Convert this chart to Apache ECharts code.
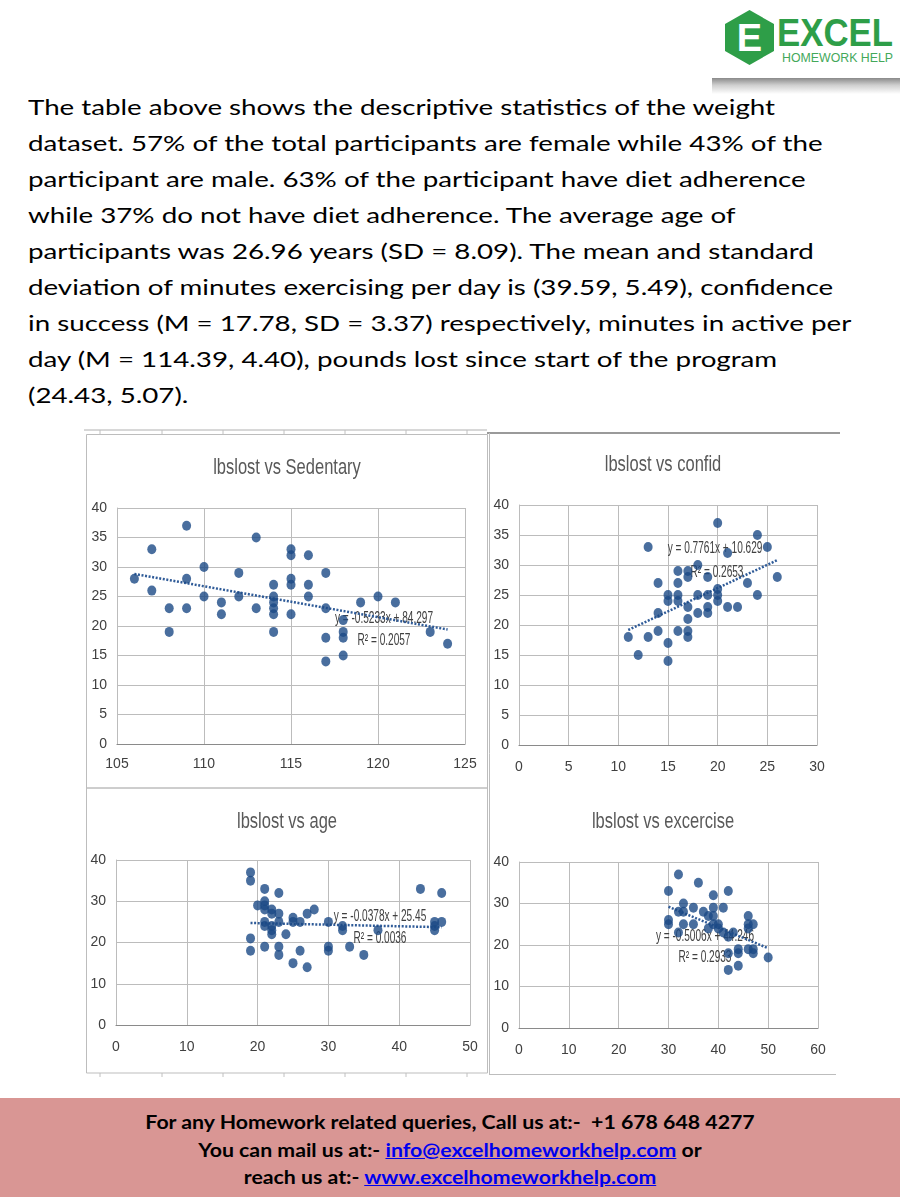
<!DOCTYPE html>
<html>
<head>
<meta charset="utf-8">
<script src="https://cdn.jsdelivr.net/npm/echarts/dist/echarts.min.js"></script>
<style>
  html, body { margin:0; padding:0; background:#fff; }
  #page { position:relative; width:900px; height:1200px; overflow:hidden; background:#fff; }
  #para { position:absolute; left:28px; top:89px; font-family:Lato, sans-serif; font-size:21px; line-height:36px; color:#000; white-space:nowrap; transform:scaleX(1.32); transform-origin:0 0; }
  #logo { position:absolute; left:712px; top:0; width:188px; height:78px; background:#fff; }
  #logoShadow { position:absolute; left:712px; top:78px; width:188px; height:16px; background:linear-gradient(#8a8a8a, #cfcfcf 45%, #fff); }
  #chart { position:absolute; left:0; top:420px; width:900px; height:665px; }
  #footer { position:absolute; left:0; top:1098px; width:900px; height:99px; background:#D99694; }
  #footerText { text-align:center; font-family:Lato, sans-serif; font-weight:bold; font-size:19px; line-height:27.5px; color:#000; padding-top:10px; transform:scaleX(1.12); transform-origin:50% 0; }
  #footer a { color:#0000EE; text-decoration:underline; }
</style>
</head>
<body>
<div id="page">
  <div id="logo">
    <svg width="188" height="78" viewBox="0 0 188 78">
      <polygon points="37.5,10 62,24 62,51 37.5,65 13,51 13,24" fill="#2E9E48"/>
      <text x="37.5" y="51" text-anchor="middle" font-family="Liberation Sans" font-weight="bold" font-size="38" fill="#fff">E</text>
      <text x="65" y="46" font-family="Liberation Sans" font-weight="bold" font-size="38" fill="#2E9E48" textLength="116" lengthAdjust="spacingAndGlyphs">EXCEL</text>
      <text x="70" y="62" font-family="Liberation Sans" font-size="12.5" fill="#43A85A" textLength="111" lengthAdjust="spacingAndGlyphs">HOMEWORK HELP</text>
    </svg>
  </div>
  <div id="logoShadow"></div>
  <div id="para">The table above shows the descriptive statistics of the weight<br>dataset. 57% of the total participants are female while 43% of the<br>participant are male. 63% of the participant have diet adherence<br>while 37% do not have diet adherence. The average age of<br>participants was 26.96 years (SD = 8.09). The mean and standard<br>deviation of minutes exercising per day is (39.59, 5.49), confidence<br>in success (M = 17.78, SD = 3.37) respectively, minutes in active per<br>day (M = 114.39, 4.40), pounds lost since start of the program<br>(24.43, 5.07).</div>
  <div id="chart"></div>
  <div id="footer"><div id="footerText">For any Homework related queries, Call us at:-&nbsp; +1 678 648 4277<br>You can mail us at:- <a href="#">info@excelhomeworkhelp.com</a> or<br>reach us at:- <a href="#">www.excelhomeworkhelp.com</a></div></div>
</div>
<script>
// ---- Data ----
const titles = ['lbslost vs Sedentary', 'lbslost vs confid', 'lbslost vs age', 'lbslost vs excercise'];

const sedentaryX = [106,107,107,108,108,109,109,109,110,110,111,111,112,112,113,113,114,114,114,114,114,114,115,115,115,115,115,116,116,116,117,117,117,117,118,118,118,118,119,120,121,123,124];
const sedentaryLbs = [28,33,26,23,19,37,28,23,30,25,24,22,29,25,35,23,27,25,24,23,22,19,33,32,28,27,22,32,27,25,29,23,18,14,21,19,18,15,24,25,24,19,17];

const confidX = [11,12,13,13,14,14,14,15,15,15,15,16,16,16,16,16,17,17,17,17,17,17,18,18,18,19,19,19,19,20,20,20,20,21,21,22,23,24,24,25,26];
const confidLbs = [18,15,33,18,27,22,19,25,24,17,14,29,27,25,24,19,29,28,23,21,19,18,30,25,22,28,25,23,22,37,26,25,24,32,23,23,27,35,25,33,28];

const ageX = [19,19,19,19,20,21,21,21,21,21,21,21,22,22,22,22,22,23,23,23,23,23,24,25,25,25,26,26,27,27,28,30,30,30,32,32,33,35,37,43,45,45,45,46,46];
const ageLbs = [37,35,21,18,29,33,30,29,28,25,24,19,28,27,24,23,22,32,27,25,19,17,22,26,25,15,25,18,27,14,28,25,19,18,24,23,19,17,23,33,25,24,23,32,25];

const exerciseX = [30,30,30,32,32,32,33,33,33,35,35,36,37,38,38,39,39,39,39,40,40,41,41,42,42,42,42,43,44,44,44,46,46,46,46,47,47,47,50];
const exerciseLbs = [33,26,25,37,28,23,30,28,25,29,25,35,28,27,24,32,29,27,25,25,24,29,23,33,22,18,14,23,19,18,15,27,25,24,19,25,19,18,17];

// Trendline equations printed on the charts
const trendSlope = [-0.5233, 0.7761, -0.0378, -0.5006];
const trendIntercept = [84.297, 10.629, 25.45, 44.246];
const trendLabel = ['y = -0.5233x + 84.297', 'y = 0.7761x + 10.629', 'y = -0.0378x + 25.45', 'y = -0.5006x + 44.246'];
const r2Label = ['R\u00B2 = 0.2057', 'R\u00B2 = 0.2653', 'R\u00B2 = 0.0036', 'R\u00B2 = 0.2933'];

// Axis ranges (tick labels)
const xMin = [105, 0, 0, 0], xMax = [125, 30, 50, 60], xStep = [5, 5, 10, 10];
const yMin = [0, 0, 0, 0], yMax = [40, 40, 40, 40], yStep = [5, 5, 10, 10];

// ---- Layout / style ----
const xs = [sedentaryX, confidX, ageX, exerciseX];
const ys = [sedentaryLbs, confidLbs, ageLbs, exerciseLbs];
const grids = [
  {left:117, top:88, width:348, height:236},
  {left:519, top:85, width:298, height:240},
  {left:116, top:440, width:354, height:165},
  {left:519, top:442, width:299, height:166}
];
const titlePos = [[287,48],[663,45],[287,402],[663,402]];
const eqPos = [[384,199],[715,129],[380,497],[705,517]];
const r2Pos = [[384,221],[717,153],[380,519],[705,538]];
const xLabelMargin = [13, 15, 15, 15];
const FONT = "'Liberation Sans', Arial, sans-serif";
const DOT = '#1B4A86';

const xAxes = [], yAxes = [], series = [], graphics = [];
for (let i = 0; i < 4; i++) {
  xAxes.push({
    type:'value', gridIndex:i, min:xMin[i], max:xMax[i], interval:xStep[i],
    axisLine:{show:true, onZero:false, lineStyle:{color:'#8a8a8a', width:1.2}},
    axisTick:{show:false},
    splitLine:{show:true, lineStyle:{color:'#bcbcbc', width:1}},
    axisLabel:{color:'#404040', fontFamily:FONT, fontSize:14, margin:xLabelMargin[i]}
  });
  yAxes.push({
    type:'value', gridIndex:i, min:yMin[i], max:yMax[i], interval:yStep[i],
    axisLine:{show:true, lineStyle:{color:'#bcbcbc', width:1}},
    axisTick:{show:false},
    splitLine:{show:true, lineStyle:{color:'#bcbcbc', width:1}},
    axisLabel:{color:'#404040', fontFamily:FONT, fontSize:14, margin:10}
  });
  const pts = xs[i].map((x, k) => [x, ys[i][k]]);
  series.push({
    type:'scatter', xAxisIndex:i, yAxisIndex:i, data:pts,
    symbol:'circle', symbolSize:[9,10], itemStyle:{color:DOT}, z:5
  });
  const x0 = Math.min(...xs[i]), x1 = Math.max(...xs[i]);
  series.push({
    type:'line', xAxisIndex:i, yAxisIndex:i, symbol:'none', silent:true, z:4,
    data:[[x0, trendSlope[i]*x0 + trendIntercept[i]], [x1, trendSlope[i]*x1 + trendIntercept[i]]],
    lineStyle:{color:'#2F5B98', width:2.5, type:[2,1.6]}
  });
  graphics.push({type:'text', x:titlePos[i][0], y:titlePos[i][1], scaleX:0.75, z:1,
    style:{text:titles[i], align:'center', verticalAlign:'middle', font:"22px " + FONT, fill:'#595959'}});
  graphics.push({type:'text', x:eqPos[i][0], y:eqPos[i][1], scaleX:0.63, z:1,
    style:{text:trendLabel[i], align:'center', verticalAlign:'middle', font:"16px " + FONT, fill:'#404040'}});
  graphics.push({type:'text', x:r2Pos[i][0], y:r2Pos[i][1], scaleX:0.63, z:1,
    style:{text:r2Label[i], align:'center', verticalAlign:'middle', font:"16px " + FONT, fill:'#404040'}});
}

// Panel frames (decoration of the pasted chart images)
const frame = {stroke:'#bdbdbd', lineWidth:1, fill:null};
graphics.push({type:'line', shape:{x1:84, y1:10, x2:487, y2:10}, style:{stroke:'#b0b0b0', lineWidth:1}});
[100,162,223,284,345,406,467].forEach(x => {
  graphics.push({type:'line', shape:{x1:x, y1:10, x2:x, y2:14}, style:{stroke:'#c0c0c0', lineWidth:1}});
  graphics.push({type:'line', shape:{x1:x, y1:653, x2:x, y2:657}, style:{stroke:'#c0c0c0', lineWidth:1}});
});
graphics.push({type:'rect', shape:{x:86.5, y:14.5, width:401, height:353.5}, style:frame});
graphics.push({type:'line', shape:{x1:487, y1:13, x2:840, y2:13}, style:{stroke:'#9a9a9a', lineWidth:2}});
graphics.push({type:'line', shape:{x1:489.5, y1:13, x2:489.5, y2:654}, style:frame});
graphics.push({type:'rect', shape:{x:86.5, y:368, width:401, height:285}, style:frame});
graphics.push({type:'line', shape:{x1:489, y1:654.5, x2:836, y2:654.5}, style:frame});

const chart = echarts.init(document.getElementById('chart'), null, {renderer:'canvas'});
chart.setOption({
  animation:false,
  backgroundColor:'transparent',
  grid:grids,
  xAxis:xAxes,
  yAxis:yAxes,
  series:series,
  graphic:graphics
});
</script>
</body>
</html>
